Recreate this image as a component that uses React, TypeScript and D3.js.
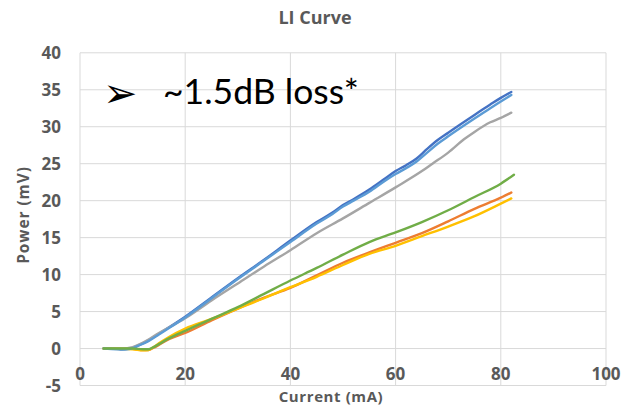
import React from "react";
import * as d3 from "d3";

const seriesNames = ["S1", "S2", "S3", "S4", "S5", "S6"];
const seriesColors = ["#4472C4", "#ED7D31", "#A5A5A5", "#FFC000", "#5B9BD5", "#70AD47"];

const xDarkBlue = [4.5, 7, 8, 9, 10, 11, 13, 15, 17, 20, 25, 30, 35, 40, 45, 48, 50, 52, 55, 58, 60, 62, 64, 66, 68, 70, 75, 78, 80, 82];
const yDarkBlue = [0, -0.05, -0.1, -0.05, 0.1, 0.4, 1.1, 2.0, 2.9, 4.3, 6.9, 9.5, 12.0, 14.6, 17.1, 18.4, 19.4, 20.2, 21.5, 23.0, 24.0, 24.8, 25.7, 27.0, 28.2, 29.2, 31.6, 33.0, 33.9, 34.7];

const xOrange = [4.5, 10, 12, 13, 14, 15, 17, 20, 25, 30, 35, 40, 45, 50, 55, 60, 65, 70, 75, 80, 82];
const yOrange = [0, -0.05, -0.2, -0.2, 0.1, 0.5, 1.3, 2.1, 3.8, 5.4, 6.9, 8.2, 9.9, 11.6, 13.0, 14.3, 15.6, 17.2, 18.9, 20.4, 21.1];

const xGray = [4.5, 8, 10, 12, 15, 20, 25, 30, 35, 40, 45, 50, 55, 60, 65, 67, 70, 73, 75, 78, 80, 82];
const yGray = [0, 0, 0.2, 0.8, 2.1, 4.1, 6.5, 8.8, 11.1, 13.3, 15.6, 17.6, 19.7, 21.8, 24.0, 25.0, 26.5, 28.3, 29.3, 30.6, 31.2, 31.9];

const xYellow = [4.5, 10, 12, 13, 14, 15, 17, 20, 25, 30, 35, 40, 45, 50, 55, 60, 65, 70, 75, 80, 82];
const yYellow = [0, -0.1, -0.25, -0.2, 0.2, 0.7, 1.6, 2.7, 4.0, 5.4, 6.8, 8.3, 9.7, 11.3, 12.8, 13.9, 15.2, 16.5, 17.9, 19.6, 20.3];

const xLightBlue = [4.5, 7, 8, 9, 10, 11, 13, 15, 17, 20, 25, 30, 35, 40, 45, 48, 50, 52, 55, 58, 60, 62, 64, 66, 68, 70, 75, 78, 80, 82];
const yLightBlue = [0, -0.1, -0.15, -0.1, 0.05, 0.35, 1.0, 1.9, 2.8, 4.2, 6.8, 9.4, 11.9, 14.4, 16.9, 18.2, 19.2, 20.0, 21.2, 22.7, 23.6, 24.4, 25.3, 26.5, 27.7, 28.7, 31.1, 32.5, 33.4, 34.3];

const xGreen = [4.5, 10, 12, 13, 14, 15, 17, 20, 25, 30, 35, 40, 45, 50, 55, 60, 65, 70, 75, 80, 82.5];
const yGreen = [0, 0, -0.1, -0.1, 0.2, 0.6, 1.4, 2.4, 4.0, 5.6, 7.4, 9.2, 10.9, 12.7, 14.4, 15.7, 17.1, 18.7, 20.5, 22.3, 23.5];

const xTicks = [0, 20, 40, 60, 80, 100];
const yTicks = [-5, 0, 5, 10, 15, 20, 25, 30, 35, 40];

const chartTitle = "LI Curve";
const xTitle = "Current (mA)";
const yTitle = "Power (mV)";
const noteArrow = "\u27A2";
const noteText = "~1.5dB loss*";

const seriesX = [xDarkBlue, xOrange, xGray, xYellow, xLightBlue, xGreen];
const seriesY = [yDarkBlue, yOrange, yGray, yYellow, yLightBlue, yGreen];

export default function App() {
  const W = 625, H = 408;
  const x = d3.scaleLinear().domain([0, 100]).range([80, 606]);
  const y = d3.scaleLinear().domain([-5, 40]).range([385.5, 52.8]);
  const line = d3
    .line<[number, number]>()
    .x((d) => x(d[0]))
    .y((d) => y(d[1]))
    .curve(d3.curveMonotoneX);
  const labelColor = "#595959";
  const font = "'Open Sans', sans-serif";

  return (
    <svg width={W} height={H} style={{ position: "absolute", left: 0, top: 0, background: "#fff" }} fontFamily={font}>
      <rect width={W} height={H} fill="#fff" />
      {yTicks.map((t) => (
        <line key={"gy" + t} x1={x(0)} x2={x(100)} y1={y(t)} y2={y(t)} stroke="#D9D9D9" strokeWidth={1} />
      ))}
      {xTicks.map((t) => (
        <line key={"gx" + t} x1={x(t)} x2={x(t)} y1={y(-5)} y2={y(40)} stroke="#D9D9D9" strokeWidth={1} />
      ))}
      {seriesNames.map((n, i) => (
        <path
          key={n}
          d={line(seriesX[i].map((v, j) => [v, seriesY[i][j]] as [number, number])) || ""}
          fill="none"
          stroke={seriesColors[i]}
          strokeWidth={2.4}
          strokeLinejoin="round"
          strokeLinecap="round"
        />
      ))}
      {yTicks.map((t) => (
        <text key={"ty" + t} x={61} y={y(t) + 6} textAnchor="end" fontSize={17} fontWeight="bold" fill={labelColor}>
          {t}
        </text>
      ))}
      {xTicks.map((t) => (
        <text key={"tx" + t} x={x(t)} y={380} textAnchor="middle" fontSize={17} fontWeight="bold" fill={labelColor}>
          {t}
        </text>
      ))}
      <text x={315} y={24} textAnchor="middle" fontSize={18} fontWeight="bold" fill={labelColor}>
        {chartTitle}
      </text>
      <text x={331} y={402} textAnchor="middle" fontSize={15} fontWeight="bold" letterSpacing={0.6} fill={labelColor}>
        {xTitle}
      </text>
      <text transform="translate(29,215) rotate(-90)" textAnchor="middle" fontSize={15.5} fontWeight="bold" letterSpacing={0.9} fill={labelColor}>
        {yTitle}
      </text>
      <text x={103} y={107} fontSize={41} fontFamily="'DejaVu Sans'" fill="#000">
        {noteArrow}
      </text>
      <text x={163} y={104} fontSize={35.5} fontFamily="Lato, sans-serif" fill="#000">
        {noteText}
      </text>
    </svg>
  );
}
